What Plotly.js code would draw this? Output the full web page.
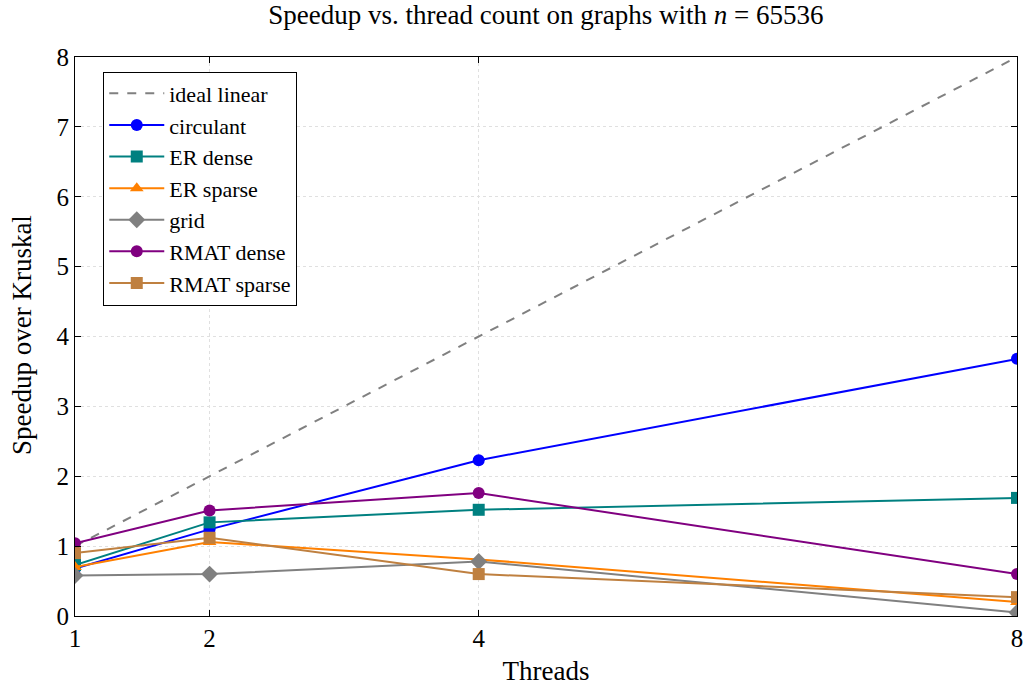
<!DOCTYPE html>
<html><head><meta charset="utf-8">
<script src="https://cdn.plot.ly/plotly-3.0.1.min.js"></script>
<style>body{margin:0;background:#fff}#c{width:1026px;height:687px}</style>
</head><body><div id="c"></div>
<script>
const threads = [1, 2, 4, 8];
const ideal = [1, 2, 4, 8];
const circulant = [0.68, 1.24, 2.23, 3.68];
const erDense = [0.73, 1.34, 1.52, 1.69];
const erSparse = [0.70, 1.06, 0.81, 0.20];
const grid = [0.58, 0.60, 0.78, 0.05];
const rmatDense = [1.04, 1.51, 1.76, 0.60];
const rmatSparse = [0.90, 1.12, 0.60, 0.27];
const tickVals = [1, 2, 4, 8];
const yTitle = 'Speedup over Kruskal';

const series = [
  {name: 'circulant', y: circulant, color: '#0000ff', symbol: 'circle'},
  {name: 'ER dense', y: erDense, color: '#008080', symbol: 'square'},
  {name: 'ER sparse', y: erSparse, color: '#ff8000', symbol: 'triangle-up'},
  {name: 'grid', y: grid, color: '#808080', symbol: 'diamond'},
  {name: 'RMAT dense', y: rmatDense, color: '#800080', symbol: 'circle'},
  {name: 'RMAT sparse', y: rmatSparse, color: '#bf8040', symbol: 'square'}
];

const traces = [{
  x: threads, y: ideal, name: 'ideal linear', mode: 'lines',
  line: {color: '#808080', width: 2, dash: 'dash'}
}];
series.forEach(s => traces.push({
  x: threads, y: s.y, name: s.name, mode: 'lines+markers',
  line: {color: s.color, width: 2},
  marker: {color: s.color, symbol: s.symbol, size: s.symbol === 'diamond' ? 13 : 12}
}));

const fam = 'Liberation Serif, Times New Roman, serif';
const font = {family: fam, color: '#000'};
const layout = {
  width: 1026, height: 687,
  margin: {l: 75, r: 9, t: 57, b: 71},
  paper_bgcolor: '#fff', plot_bgcolor: '#fff',
  font: Object.assign({size: 22}, font),
  title: {text: 'Speedup vs. thread count on graphs with <i>n</i> = 65536',
          font: Object.assign({size: 27}, font), x: 0.532, xanchor: 'center', y: 0.992, yanchor: 'top'},
  xaxis: {
    range: [1, 8], tickvals: tickVals, ticktext: tickVals.map(String),
    showline: true, mirror: 'ticks', linecolor: '#000', linewidth: 1.2,
    ticks: 'inside', ticklen: 6, tickcolor: '#000',
    showgrid: true, gridcolor: '#e0e0e0', griddash: 'dot', gridwidth: 1,
    zeroline: false,
    tickfont: Object.assign({size: 25}, font),
    title: {text: 'Threads', font: Object.assign({size: 27}, font), standoff: 10}
  },
  yaxis: {
    range: [0, 8], dtick: 1,
    showline: true, mirror: 'ticks', linecolor: '#000', linewidth: 1.2,
    ticks: 'inside', ticklen: 6, tickcolor: '#000',
    showgrid: true, gridcolor: '#e0e0e0', griddash: 'dot', gridwidth: 1,
    zeroline: false,
    tickfont: Object.assign({size: 25}, font)
  },
  annotations: [{
    text: yTitle, xref: 'paper', yref: 'paper', x: -0.056, y: 0.503,
    xanchor: 'center', yanchor: 'middle', textangle: -90, showarrow: false,
    font: Object.assign({size: 27}, font)
  }],
  legend: {
    x: 0.03, y: 0.974, xanchor: 'left', yanchor: 'top',
    bgcolor: '#fff', bordercolor: '#000', borderwidth: 1,
    font: Object.assign({size: 22}, font),
    tracegroupgap: 0, itemwidth: 55
  },
  showlegend: true
};
Plotly.newPlot('c', traces, layout, {displayModeBar: false});
</script></body></html>
